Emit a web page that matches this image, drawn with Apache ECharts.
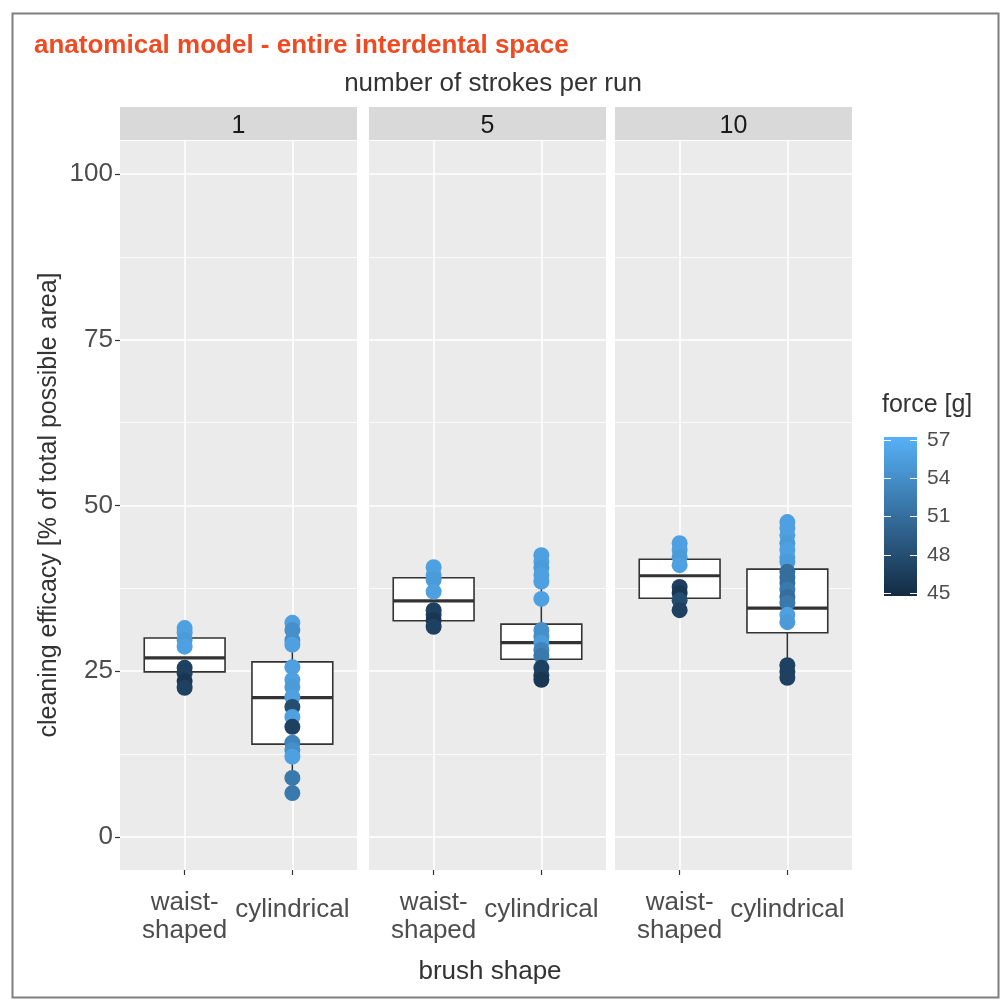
<!DOCTYPE html>
<html>
<head>
<meta charset="utf-8">
<script src="https://cdn.jsdelivr.net/npm/echarts@6/dist/echarts.min.js"></script>
<style>
  html, body { margin: 0; padding: 0; background: #ffffff; }
  #chart { width: 1003px; height: 1003px; }
</style>
</head>
<body>
<div id="chart"></div>
<script>
// Facets (number of strokes per run) and brush shapes on the x axis
const facets = ['1', '5', '10'];
const shapes = ['waist-\nshaped', 'cylindrical'];
const yTicks = [0, 25, 50, 75, 100];
const yMinorTicks = [12.5, 37.5, 62.5, 87.5];
const forceTicks = [45, 48, 51, 54, 57];

// Box statistics per facet: [lower whisker, Q1, median, Q3, upper whisker]
const boxWaist = [
  [22.5, 24.9, 27.0, 30.0, 31.5],
  [31.7, 32.6, 35.6, 39.1, 40.7],
  [34.2, 36.0, 39.4, 41.9, 44.3]
];
const boxCylindrical = [
  [6.6, 14.0, 21.0, 26.4, 32.3],
  [23.7, 26.8, 29.3, 32.1, 42.5],
  [24.0, 30.8, 34.5, 40.4, 47.5]
];

// Individual runs per facet: [cleaning efficacy %, force g]
const runsWaist = [
  [[31.5, 55.5], [30.8, 55.5], [29.7, 55], [28.7, 55.5], [25.5, 47], [24.7, 47], [23.5, 46], [22.5, 47]],
  [[40.7, 55.5], [39.5, 55.5], [38.8, 55], [37.0, 55.5], [34.2, 47], [33.5, 47], [32.7, 46], [31.7, 47]],
  [[44.3, 55.5], [43.3, 55.5], [42.2, 55], [41.0, 55.5], [37.7, 47], [36.8, 46], [35.7, 48], [34.2, 47]]
];
const runsCylindrical = [
  [[32.3, 55.5], [31.2, 54], [29.7, 54], [29.0, 55.5], [25.6, 55.5], [23.7, 55.5], [22.6, 55], [21.1, 55.5],
   [19.6, 48], [18.1, 55.5], [16.6, 47], [14.2, 53], [13.1, 54], [12.1, 55.5], [8.9, 52], [6.6, 52]],
  [[42.5, 55.5], [41.5, 55.5], [40.6, 55], [39.5, 55.5], [38.5, 55.5], [35.9, 55.5], [31.2, 54], [30.2, 54],
   [29.3, 55], [28.2, 53], [27.3, 52], [25.5, 47], [24.4, 47], [23.7, 46]],
  [[47.5, 55.5], [46.6, 55.5], [45.5, 55.5], [44.3, 55], [43.3, 55.5], [42.2, 55.5], [41.5, 55], [40.0, 51],
   [39.1, 51], [38.3, 51], [37.3, 52], [36.2, 51], [35.3, 52], [33.5, 55.5], [32.4, 55], [25.9, 47],
   [24.9, 47], [24.0, 47]]
];

const FONT = "'Liberation Sans', Arial, Helvetica, sans-serif";
const TEXT_GREY = '#4D4D4D';
const PANEL_LEFT = [120, 369, 615];
const PANEL_W = 237;
const PANEL_TOP = 141;
const PANEL_H = 729;
const STRIP_H = 33;
const BOX_WIDTH = 0.75;
const LOW_COLOR = '#132B43';
const HIGH_COLOR = '#56B1F7';

const chart = echarts.init(document.getElementById('chart'), null, { renderer: 'canvas' });

// Box with whiskers, median bar drawn through the axis scales
function renderBox(params, api) {
  const x = api.value(0);
  const pLo = api.coord([x, api.value(1)]);
  const pQ1 = api.coord([x, api.value(2)]);
  const pMed = api.coord([x, api.value(3)]);
  const pQ3 = api.coord([x, api.value(4)]);
  const pHi = api.coord([x, api.value(5)]);
  const half = api.size([BOX_WIDTH, 0])[0] / 2;
  const cx = pQ1[0];
  const stroke = { stroke: '#333333', lineWidth: 1.6 };
  return {
    type: 'group',
    children: [
      { type: 'line', shape: { x1: cx, y1: pLo[1], x2: cx, y2: pQ1[1] }, style: stroke },
      { type: 'line', shape: { x1: cx, y1: pQ3[1], x2: cx, y2: pHi[1] }, style: stroke },
      { type: 'rect', shape: { x: cx - half, y: pQ3[1], width: 2 * half, height: pQ1[1] - pQ3[1] },
        style: { fill: '#ffffff', stroke: '#333333', lineWidth: 1.6 } },
      { type: 'line', shape: { x1: cx - half, y1: pMed[1], x2: cx + half, y2: pMed[1] },
        style: { stroke: '#333333', lineWidth: 3.2 } }
    ]
  };
}

// Colour bar for the force legend
function renderColorBar(params, api) {
  const top = api.coord([0, forceTicks[forceTicks.length - 1]]);
  const bottom = api.coord([1, forceTicks[0]]);
  return {
    type: 'rect',
    shape: { x: top[0], y: top[1] - 3, width: bottom[0] - top[0], height: bottom[1] - top[1] + 6 },
    style: {
      fill: new echarts.graphic.LinearGradient(0, 1, 0, 0, [
        { offset: 0, color: LOW_COLOR },
        { offset: 1, color: HIGH_COLOR }
      ])
    }
  };
}

const labelStyle = { fontSize: 26, fontFamily: FONT, color: TEXT_GREY, lineHeight: 28 };

const grids = [];
const xAxes = [];
const yAxes = [];
const series = [];
const scatterIdx = [];
const graphics = [];

facets.forEach((facet, i) => {
  grids.push({
    left: PANEL_LEFT[i], top: PANEL_TOP, width: PANEL_W, height: PANEL_H,
    show: true, backgroundColor: '#EBEBEB', borderWidth: 0
  });
  xAxes.push({
    type: 'value', gridIndex: i, min: 0.4, max: 2.6,
    axisLine: { show: false, onZero: false },
    axisTick: { show: true, customValues: [1, 2], length: 5, lineStyle: { color: '#333333', width: 1.2 } },
    axisLabel: {
      customValues: [1, 2],
      formatter: v => (Math.round(v) === 1 ? '{w|' : '{c|') + shapes[Math.round(v) - 1] + '}',
      rich: {
        w: Object.assign({}, labelStyle),
        c: Object.assign({ padding: [0, 0, 14, 0] }, labelStyle)
      },
      fontSize: 26, fontFamily: FONT, color: TEXT_GREY, lineHeight: 28,
      verticalAlign: 'middle', margin: 47
    },
    splitLine: { show: true, lineStyle: { color: '#ffffff', width: 1.6 } }
  });
  yAxes.push({
    type: 'value', gridIndex: i, min: -5, max: 105,
    axisLine: { show: false },
    axisTick: { show: i === 0, customValues: yTicks, length: 5, lineStyle: { color: '#333333', width: 1.2 } },
    axisLabel: { show: i === 0, customValues: yTicks, fontSize: 26, fontFamily: FONT, color: TEXT_GREY, margin: 7 },
    splitLine: { show: true, lineStyle: { color: '#ffffff', width: 1.6 } }
  });
  yAxes.push({
    type: 'value', gridIndex: i, min: -5, max: 105,
    axisLine: { show: false },
    axisTick: { show: false, customValues: yMinorTicks },
    axisLabel: { show: false, customValues: yMinorTicks },
    splitLine: { show: true, lineStyle: { color: '#ffffff', width: 0.8 } }
  });

  series.push({
    type: 'custom', xAxisIndex: i, yAxisIndex: 2 * i, silent: true, z: 2,
    renderItem: renderBox,
    encode: { x: 0, y: [1, 2, 3, 4, 5] },
    data: [[1].concat(boxWaist[i]), [2].concat(boxCylindrical[i])]
  });
  scatterIdx.push(series.length);
  series.push({
    type: 'scatter', xAxisIndex: i, yAxisIndex: 2 * i, silent: true, z: 3,
    symbolSize: 16,
    itemStyle: { opacity: 1 },
    data: runsWaist[i].map(r => [1, r[0], r[1]]).concat(runsCylindrical[i].map(r => [2, r[0], r[1]]))
  });

  // facet strip
  graphics.push({
    type: 'rect', left: PANEL_LEFT[i], top: PANEL_TOP - STRIP_H - 1,
    shape: { width: PANEL_W, height: STRIP_H }, style: { fill: '#D9D9D9' }, silent: true
  });
  graphics.push({
    type: 'text', x: PANEL_LEFT[i] + PANEL_W / 2, y: PANEL_TOP - STRIP_H / 2 + 2,
    style: { text: facet, font: '25px ' + FONT, fill: '#1A1A1A', align: 'center', verticalAlign: 'middle' },
    silent: true
  });
});

// legend colour bar grid
grids.push({ left: 884, top: 440, width: 33, height: 153, show: false });
xAxes.push({ type: 'value', gridIndex: 3, min: 0, max: 1, show: false });
yAxes.push({
  type: 'value', gridIndex: 3, position: 'left', min: 45, max: 57, interval: 3, z: 10,
  axisLine: { show: false },
  axisTick: { show: true, inside: true, length: 7, lineStyle: { color: '#ffffff', width: 1 } },
  axisLabel: { show: false }, splitLine: { show: false }
});
yAxes.push({
  type: 'value', gridIndex: 3, position: 'right', min: 45, max: 57, interval: 3, z: 10,
  axisLine: { show: false },
  axisTick: { show: true, inside: true, length: 7, lineStyle: { color: '#ffffff', width: 1 } },
  axisLabel: { show: true, fontSize: 21, fontFamily: FONT, color: TEXT_GREY, margin: 10 },
  splitLine: { show: false }
});
series.push({
  type: 'custom', xAxisIndex: 3, yAxisIndex: 6, silent: true, z: 2,
  renderItem: renderColorBar, data: [[0]]
});

graphics.push(
  { type: 'rect', left: 10, top: 11, shape: { width: 986, height: 984 },
    style: { fill: 'none', stroke: '#7F7F7F', lineWidth: 2 }, silent: true, z: -1 },
  { type: 'text', x: 34, y: 46,
    style: { text: 'anatomical model - entire interdental space', font: 'bold 26px ' + FONT,
             fill: '#EF4B23', align: 'left', verticalAlign: 'middle' }, silent: true },
  { type: 'text', x: 493, y: 84,
    style: { text: 'number of strokes per run', font: '26px ' + FONT, fill: '#333333',
             align: 'center', verticalAlign: 'middle' }, silent: true },
  { type: 'text', x: 490, y: 972,
    style: { text: 'brush shape', font: '26px ' + FONT, fill: '#333333',
             align: 'center', verticalAlign: 'middle' }, silent: true },
  { type: 'text', x: 49, y: 505, rotation: Math.PI / 2,
    style: { text: 'cleaning efficacy [% of total possible area]', font: '25px ' + FONT, fill: '#333333',
             align: 'center', verticalAlign: 'middle' }, silent: true },
  { type: 'text', x: 882, y: 405,
    style: { text: 'force [g]', font: '25px ' + FONT, fill: '#333333',
             align: 'left', verticalAlign: 'middle' }, silent: true }
);

chart.setOption({
  animation: false,
  backgroundColor: '#ffffff',
  grid: grids,
  xAxis: xAxes,
  yAxis: yAxes,
  visualMap: {
    type: 'continuous', show: false, min: forceTicks[0], max: forceTicks[forceTicks.length - 1],
    dimension: 2, seriesIndex: scatterIdx,
    inRange: { color: [LOW_COLOR, HIGH_COLOR] }
  },
  graphic: graphics,
  series: series
});
</script>
</body>
</html>
